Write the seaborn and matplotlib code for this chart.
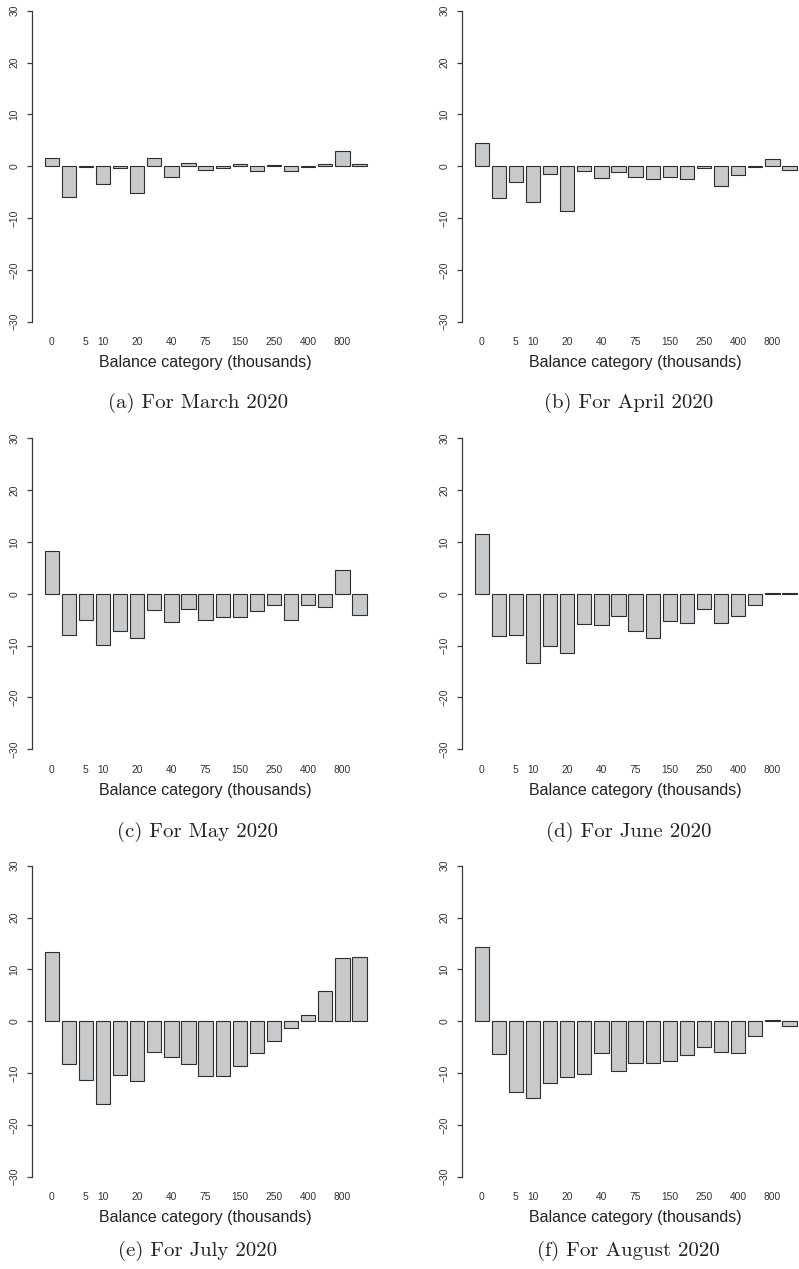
import matplotlib
matplotlib.use("Agg")
import matplotlib.pyplot as plt
import numpy as np
import pandas as pd
import seaborn as sns

# Balance categories (thousands); only some bars carry a printed label
tick_labels = ["0", "", "5", "10", "", "20", "", "40", "", "75", "",
               "150", "", "250", "", "400", "", "800", ""]

# Change per balance category, by month
march = [1.6, -5.85, -0.2, -3.4, -0.4, -5.15, 1.6, -2.05, 0.65, -0.7, -0.3,
         0.45, -0.95, 0.2, -0.9, -0.1, 0.45, 3.0, 0.4]
april = [4.55, -6.05, -3.1, -6.9, -1.6, -8.55, -0.9, -2.25, -1.1, -2.0, -2.5,
         -2.05, -2.45, -0.35, -3.9, -1.7, -0.1, 1.4, -0.65]
may = [8.3, -8.0, -5.15, -9.85, -7.1, -8.45, -3.1, -5.4, -2.95, -5.0, -4.45,
       -4.45, -3.4, -2.1, -5.1, -2.1, -2.5, 4.6, -4.0]
june = [11.5, -8.1, -7.9, -13.3, -10.05, -11.4, -5.8, -6.0, -4.25, -7.1, -8.45,
        -5.3, -5.6, -2.95, -5.6, -4.25, -2.25, 0.25, 0.1]
july = [13.35, -8.2, -11.35, -16.0, -10.4, -11.5, -5.85, -7.0, -8.3, -10.55,
        -10.55, -8.6, -6.15, -3.75, -1.3, 1.15, 5.9, 12.15, 12.35]
august = [14.4, -6.4, -13.7, -14.9, -12.0, -10.85, -10.1, -6.15, -9.7, -8.1,
          -8.05, -7.6, -6.5, -5.0, -5.85, -6.15, -2.95, 0.15, -0.9]

captions = ["(a) For March 2020", "(b) For April 2020", "(c) For May 2020",
            "(d) For June 2020", "(e) For July 2020", "(f) For August 2020"]
series = [march, april, may, june, july, august]

W, H = 799, 1269
sns.set_style("white")
plt.rcParams["font.family"] = ["Liberation Sans", "DejaVu Sans"]

fig = plt.figure(figsize=(W / 100, H / 100), dpi=100)

FILL = "#c8c9ca"
EDGE = "#2e2e2e"
AXIS = "#3a3a3a"

col_x = [31.7, 461.7]          # pixel position of the y axis line
row_top = [10.7, 438.3, 865.7]  # pixel position of the +30 tick
cap_x = [197.7, 628.3]
cap_y = [403.3, 831.7, 1250.7]
ppu = 311.0 / 60.0              # pixels per unit on the y scale
ax_w = 347.8
ax_h = 64.8 * ppu

for i, (vals, cap) in enumerate(zip(series, captions)):
    r, c = divmod(i, 2)
    left = col_x[c]
    top = row_top[r] - 2.4 * ppu
    ax = fig.add_axes([left / W, 1 - (top + ax_h) / H, ax_w / W, ax_h / H])
    df = pd.DataFrame({"cat": np.arange(len(vals)), "val": vals})
    sns.barplot(data=df, x="cat", y="val", ax=ax, color=FILL, saturation=1,
                edgecolor=EDGE, linewidth=0.8, width=1 / 1.2, errorbar=None)
    ax.set_xlim(-1.17, 19.17)
    ax.set_ylim(-32.4, 32.4)
    ax.set_xlabel("")
    ax.set_ylabel("")
    ax.patch.set_alpha(0)

    for s in ["top", "right", "bottom"]:
        ax.spines[s].set_visible(False)
    ax.spines["left"].set_bounds(-30, 30)
    ax.spines["left"].set_color(AXIS)
    ax.spines["left"].set_linewidth(0.9)

    yt = list(range(-30, 31, 10))
    ax.set_yticks(yt)
    ax.set_yticklabels([str(v).replace("-", "\u2212") for v in yt],
                       rotation=90, va="center", fontsize=7.4, color="#333333")
    ax.tick_params(axis="y", left=True, length=3.6, width=0.9, color=AXIS, pad=5.0)

    ax.set_xticks(range(len(tick_labels)))
    ax.set_xticklabels(tick_labels, fontsize=7.4, color="#333333")
    ax.tick_params(axis="x", bottom=False, length=0, pad=2.0)

    # axis title under the bars
    xl_y = row_top[r] + 352.0
    fig.text((left + ax_w / 2) / W, 1 - xl_y / H, "Balance category (thousands)",
             ha="center", va="center", fontsize=11.5, color="#222222")

    # sub-figure caption
    fig.text(cap_x[c] / W, 1 - cap_y[r] / H, cap, ha="center", va="center",
             fontsize=15, family="cmr10", color="#222222")

fig.savefig("out.png", dpi=100)
